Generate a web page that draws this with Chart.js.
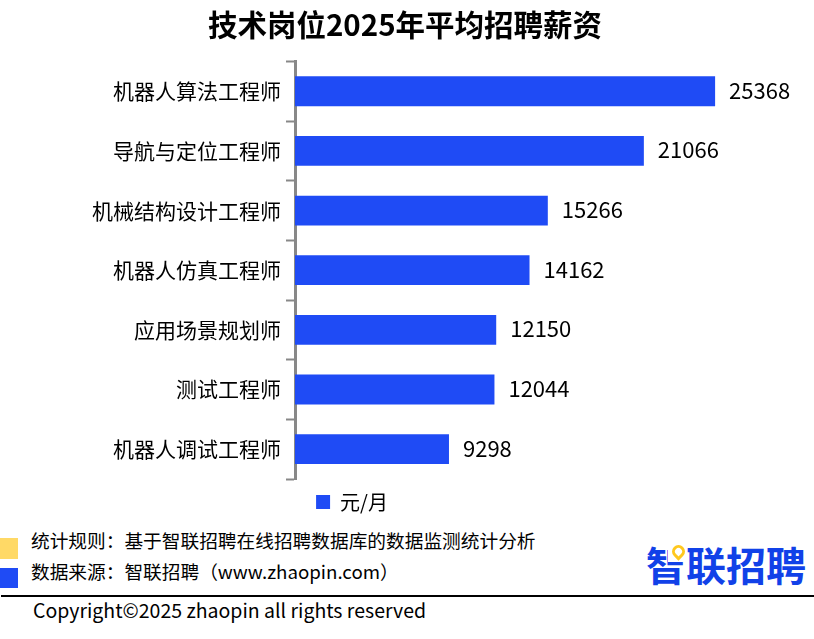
<!DOCTYPE html>
<html>
<head>
<meta charset="utf-8">
<script src="https://cdn.jsdelivr.net/npm/chart.js@4"></script>
<style>
html, body { margin:0; padding:0; background:#fff; }
body { width:814px; height:639px; position:relative; overflow:hidden; font-family:"Noto Sans CJK SC",sans-serif; color:#000; }
#wrap { position:absolute; left:0; top:0; width:814px; height:522px; }
.abs { position:absolute; white-space:nowrap; line-height:1; }
</style>
</head>
<body>
<div id="wrap"><canvas id="salaryChart"></canvas></div>

<div class="abs" style="left:0;top:538px;width:18px;height:21px;background:#ffd966"></div>
<div class="abs" style="left:0;top:568px;width:18px;height:20px;background:#1f4bf5"></div>
<div class="abs" id="rule" style="left:31px;top:531px;font-size:18.7px"></div>
<div class="abs" id="source" style="left:31px;top:562px;font-size:18.7px"></div>
<div class="abs" style="left:1px;top:595px;width:813px;height:2px;background:#000"></div>
<div class="abs" id="copy" style="left:33px;top:600px;font-size:19.5px"></div>

<div class="abs" id="logo" style="left:646px;top:544px;font-size:40px;font-weight:700;color:#1141e8"></div>
<!-- logo 上的黄色定位点 -->
<div class="abs" style="left:668px;top:543px;width:19px;height:19px;background:#fff"></div>
<div class="abs" style="left:672px;top:545px;width:7px;height:7px;border:3px solid #ffc81e;border-radius:50% 50% 50% 0;transform:rotate(-45deg)"></div>

<script>
const titleText = "技术岗位2025年平均招聘薪资";
const categories = ["机器人算法工程师","导航与定位工程师","机械结构设计工程师","机器人仿真工程师","应用场景规划师","测试工程师","机器人调试工程师"];
const salaries = [25368, 21066, 15266, 14162, 12150, 12044, 9298];
const seriesName = "元/月";
const ruleText = "统计规则\uFF1A基于智联招聘在线招聘数据库的数据监测统计分析";
const sourceText = "数据来源\uFF1A智联招聘\uFF08www.zhaopin.com\uFF09";
const copyText = "Copyright©2025 zhaopin all rights reserved";
const logoText = "智联招聘";

const FONT = '"Noto Sans CJK SC", sans-serif';
const BLUE = '#1f4bf5';

document.getElementById('rule').textContent = ruleText;
document.getElementById('source').textContent = sourceText;
document.getElementById('copy').textContent = copyText;
document.getElementById('logo').textContent = logoText;

// 柱子右侧的数值
const valueLabels = {
    id: 'valueLabels',
    afterDatasetsDraw(chart) {
        const ctx = chart.ctx;
        const meta = chart.getDatasetMeta(0);
        ctx.save();
        ctx.font = '22px ' + FONT;
        ctx.fillStyle = '#000';
        ctx.textBaseline = 'middle';
        meta.data.forEach((bar, i) => {
            ctx.fillText(salaries[i], bar.x + 14, bar.y - 1);
        });
        ctx.restore();
    }
};

// 图例和标题往左挪,对齐原图
const moveBoxes = {
    id: 'moveBoxes',
    afterLayout(chart) {
        chart.legend.left -= 55;
        chart.legend.right -= 55;
        chart.titleBlock.left -= 2;
        chart.titleBlock.right -= 2;
    }
};

new Chart(document.getElementById('salaryChart'), {
    type: 'bar',
    data: {
        labels: categories,
        datasets: [{ label: seriesName, data: salaries, backgroundColor: BLUE, barPercentage: 0.5, categoryPercentage: 1 }]
    },
    options: {
        indexAxis: 'y',
        responsive: true,
        maintainAspectRatio: false,
        animation: false,
        scales: {
            x: { display: false, min: 0, max: 31340 },
            y: {
                afterFit(s) { s.width = 295; },
                grid: { drawOnChartArea: false, drawTicks: true, tickLength: 9, tickWidth: 2, color: '#888', offset: true },
                border: { color: '#888', width: 3 },
                ticks: { color: '#000', padding: 5, font: { family: FONT, size: 21 } }
            }
        },
        plugins: {
            title: { display: true, text: titleText, color: '#000', font: { family: FONT, size: 29.5, weight: 'bold' }, padding: { top: 7, bottom: 19 } },
            legend: {
                position: 'bottom',
                labels: { color: '#000', boxWidth: 14, boxHeight: 14, padding: 13, font: { family: FONT, size: 20 } }
            },
            tooltip: { enabled: false }
        }
    },
    plugins: [valueLabels, moveBoxes]
});
</script>
</body>
</html>
